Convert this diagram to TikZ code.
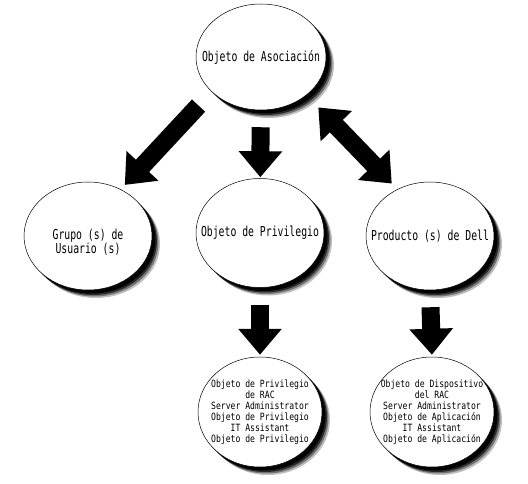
\documentclass[tikz,border=0pt]{standalone}
\usepackage{fontspec}
\usetikzlibrary{shapes.geometric,arrows.meta}
\newfontfamily\bubbleFont[FakeStretch=0.715]{DejaVu Sans Mono}
\newfontfamily\listFont[FakeStretch=0.81]{DejaVu Sans Mono}
\newcommand{\bigText}[0]{\bubbleFont\fontsize{13.7}{14}\selectfont}
\newcommand{\smallText}[0]{\listFont\fontsize{10}{11.1}\selectfont}

\begin{document}
\begin{tikzpicture}[x=1pt, y=-1pt]
  \tikzset{shadeAt/.style 2 args={preaction={draw=none, fill=black, fill opacity=#2,
        transform canvas={shift={(#1,-#1)}}}},
    bubble/.style={ellipse, draw, line width=0.5pt, fill=white, inner sep=0pt,
      shadeAt={8pt}{0.25}, shadeAt={6.5pt}{0.4}, shadeAt={5pt}{0.65}, shadeAt={3.5pt}{1}},
    bigLabel/.style={font=\bigText, align=center},
    smallLabel/.style={font=\smallText, align=center},
    blockArrow/.style={line width=18pt, -{Triangle[width=42pt,length=26pt]}},
    twoWayArrow/.style={line width=18pt, {Triangle[width=42pt,length=26pt]}-{Triangle[width=42pt,length=26pt]}}}
  \useasboundingbox (0,0) rectangle (528,484);
  \node[bubble, minimum width=130pt, minimum height=106pt,
    label={[bigLabel]center:Objeto de Asociación}] (asoc) at (261,57) {};
  \node[bubble, minimum width=128pt, minimum height=108pt,
    label={[bigLabel, yshift=-6pt]center:Grupo (s) de\\Usuario (s)}] (grupo) at (88,236) {};
  \node[bubble, minimum width=128pt, minimum height=109pt,
    label={[bigLabel]center:Objeto de Privilegio}] (priv) at (260,233) {};
  \node[bubble, minimum width=128pt, minimum height=108pt,
    label={[bigLabel]center:Producto (s) de Dell}] (dell) at (430,236) {};
  \node[bubble, minimum width=124pt, minimum height=110pt,
    label={[smallLabel]center:Objeto de Privilegio\\de RAC\\Server Administrator\\Objeto de Privilegio\\IT Assistant\\Objeto de Privilegio}] (privList) at (260,412) {};
  \node[bubble, minimum width=124pt, minimum height=110pt,
    label={[smallLabel]center:Objeto de Dispositivo\\del RAC\\Server Administrator\\Objeto de Aplicación\\IT Assistant\\Objeto de Aplicación}] (dellList) at (432,412) {};
  \draw[blockArrow, shorten <=19pt, shorten >=6pt] (asoc.215) -- (grupo.55);
  \draw[blockArrow, shorten <=17pt, shorten >=1pt] (asoc) -- (priv);
  \draw[twoWayArrow, shorten <=17pt, shorten >=8pt] (asoc.320) -- (dell.125);
  \draw[blockArrow, shorten <=17pt, shorten >=2pt] (priv) -- (privList);
  \draw[blockArrow, shorten <=17pt, shorten >=2pt] (dell.south) -- (dellList.north);
\end{tikzpicture}
\end{document}
